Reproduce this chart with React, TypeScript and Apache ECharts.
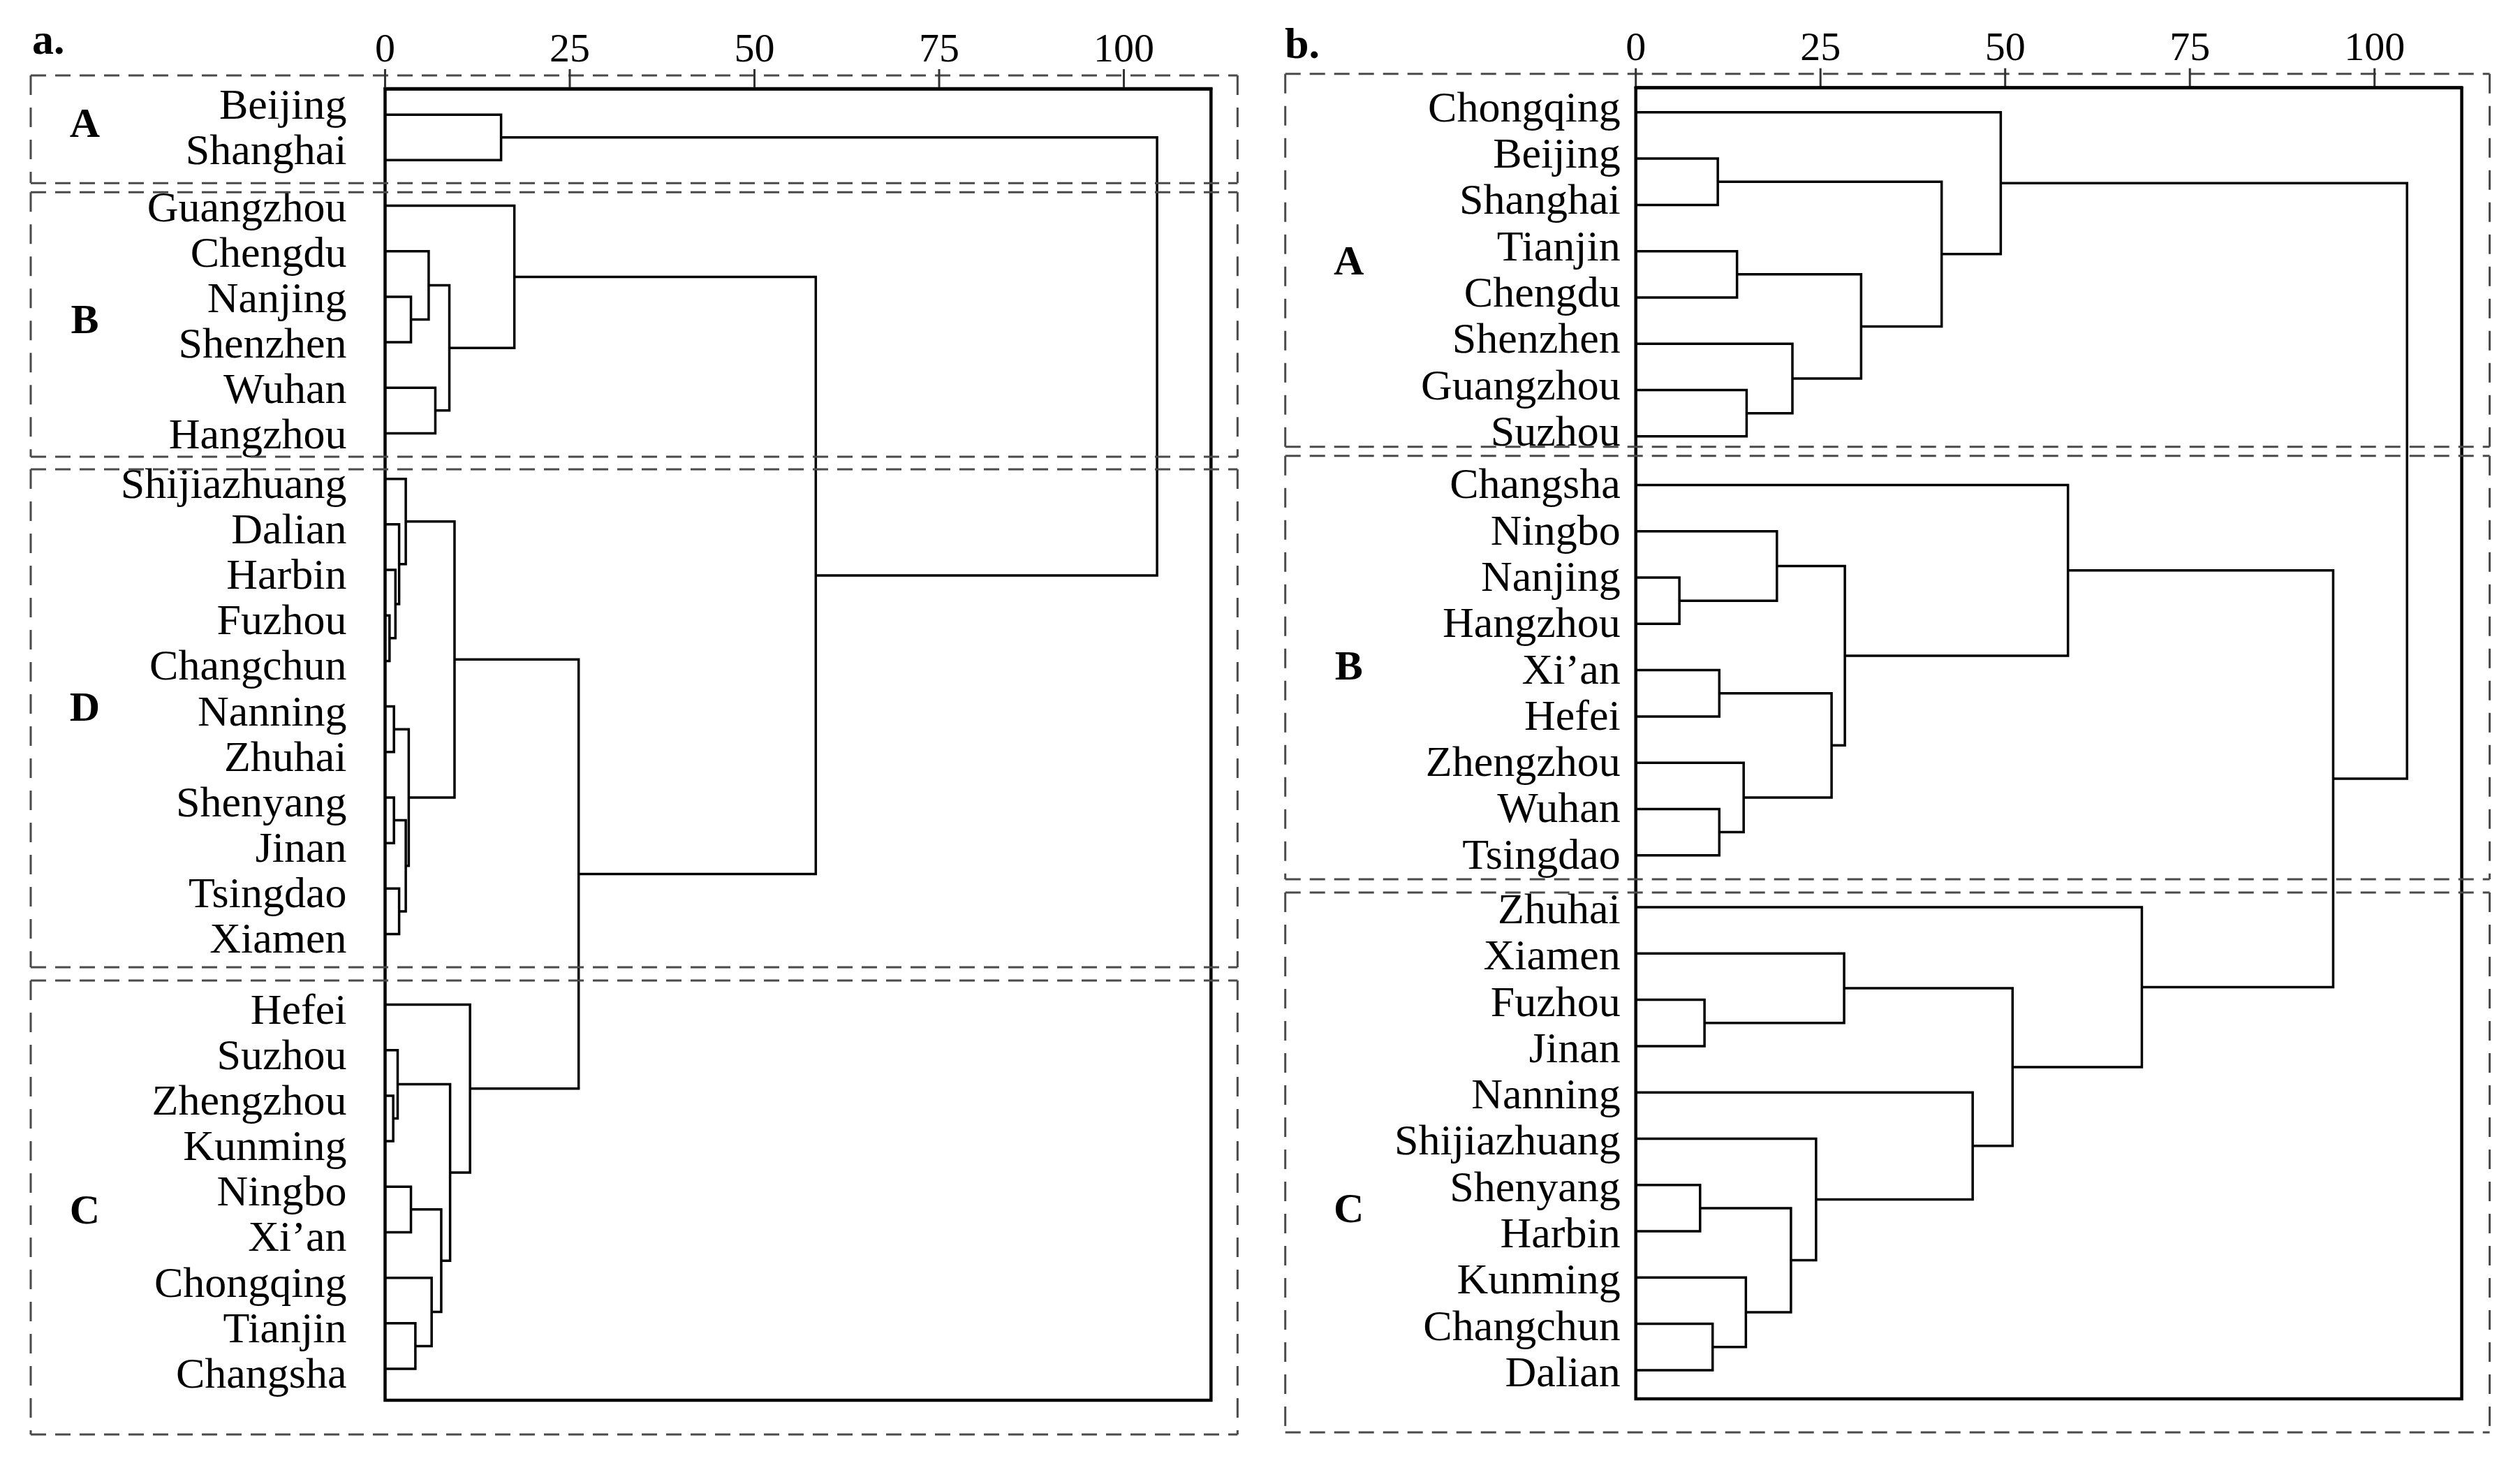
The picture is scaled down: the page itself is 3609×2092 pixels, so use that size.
import React, { useEffect, useRef } from "react";
import * as echarts from "echarts";

// ---------- data ----------
const TICKS = [0, 25, 50, 75, 100];
const AXIS_MAX = 111.8;

const leavesA = [
  "Beijing", "Shanghai",
  "Guangzhou", "Chengdu", "Nanjing", "Shenzhen", "Wuhan", "Hangzhou",
  "Shijiazhuang", "Dalian", "Harbin", "Fuzhou", "Changchun", "Nanning", "Zhuhai", "Shenyang", "Jinan", "Tsingdao", "Xiamen",
  "Hefei", "Suzhou", "Zhengzhou", "Kunming", "Ningbo", "Xi’an", "Chongqing", "Tianjin", "Changsha",
];
// [child, child, height]; numbers refer to earlier merges
const linksA: [string | number, string | number, number][] = [
  ["Beijing", "Shanghai", 15.7], // 0
  ["Nanjing", "Shenzhen", 3.5], // 1
  ["Chengdu", 1, 5.9], // 2
  ["Wuhan", "Hangzhou", 6.8], // 3
  [2, 3, 8.7], // 4
  ["Guangzhou", 4, 17.5], // 5
  ["Fuzhou", "Changchun", 0.6], // 6
  ["Harbin", 6, 1.4], // 7
  ["Dalian", 7, 1.9], // 8
  ["Shijiazhuang", 8, 2.8], // 9
  ["Nanning", "Zhuhai", 1.2], // 10
  ["Shenyang", "Jinan", 1.2], // 11
  ["Tsingdao", "Xiamen", 1.9], // 12
  [11, 12, 2.8], // 13
  [10, 13, 3.2], // 14
  [9, 14, 9.4], // 15
  ["Zhengzhou", "Kunming", 1.1], // 16
  ["Suzhou", 16, 1.7], // 17
  ["Ningbo", "Xi’an", 3.5], // 18
  ["Tianjin", "Changsha", 4.1], // 19
  ["Chongqing", 19, 6.3], // 20
  [18, 20, 7.6], // 21
  [17, 21, 8.8], // 22
  ["Hefei", 22, 11.5], // 23
  [15, 23, 26.2], // 24
  [5, 24, 58.3], // 25
  [0, 25, 104.5], // 26
];
const groupsA: [string, string, string][] = [
  ["A", "Beijing", "Shanghai"],
  ["B", "Guangzhou", "Hangzhou"],
  ["D", "Shijiazhuang", "Xiamen"],
  ["C", "Hefei", "Changsha"],
];

const leavesB = [
  "Chongqing", "Beijing", "Shanghai", "Tianjin", "Chengdu", "Shenzhen", "Guangzhou", "Suzhou",
  "Changsha", "Ningbo", "Nanjing", "Hangzhou", "Xi’an", "Hefei", "Zhengzhou", "Wuhan", "Tsingdao",
  "Zhuhai", "Xiamen", "Fuzhou", "Jinan", "Nanning", "Shijiazhuang", "Shenyang", "Harbin", "Kunming", "Changchun", "Dalian",
];
const linksB: [string | number, string | number, number][] = [
  ["Beijing", "Shanghai", 11.1], // 0
  ["Tianjin", "Chengdu", 13.7], // 1
  ["Guangzhou", "Suzhou", 15.0], // 2
  ["Shenzhen", 2, 21.2], // 3
  [1, 3, 30.5], // 4
  [0, 4, 41.4], // 5
  ["Chongqing", 5, 49.4], // 6
  ["Nanjing", "Hangzhou", 5.9], // 7
  ["Ningbo", 7, 19.1], // 8
  ["Xi’an", "Hefei", 11.3], // 9
  ["Wuhan", "Tsingdao", 11.3], // 10
  ["Zhengzhou", 10, 14.6], // 11
  [9, 11, 26.5], // 12
  [8, 12, 28.3], // 13
  ["Changsha", 13, 58.5], // 14
  ["Fuzhou", "Jinan", 9.3], // 15
  ["Xiamen", 15, 28.2], // 16
  ["Shenyang", "Harbin", 8.7], // 17
  ["Changchun", "Dalian", 10.4], // 18
  ["Kunming", 18, 14.9], // 19
  [17, 19, 21.0], // 20
  ["Shijiazhuang", 20, 24.4], // 21
  ["Nanning", 21, 45.6], // 22
  [16, 22, 51.0], // 23
  ["Zhuhai", 23, 68.5], // 24
  [14, 24, 94.4], // 25
  [6, 25, 104.4], // 26
];
const groupsB: [string, string, string][] = [
  ["A", "Chongqing", "Suzhou"],
  ["B", "Changsha", "Tsingdao"],
  ["C", "Zhuhai", "Dalian"],
];

// ---------- layout ----------
const FONT = '"Liberation Serif", "Times New Roman", serif';
const DASH = "#4a4a4a";
const PX_PER_UNIT = 10.58;
const TICK_LEN = 28;

const panels = [
  {
    tag: "a.", tagX: 46, tagY: 56,
    leaves: leavesA, links: linksA, groups: groupsA,
    left: 551.5, top: 127, height: 1878,
    gaps: [0, 0, 0.55], yMin: -0.57, yMax: 28.24,
    labelGap: 55, labelDy: [-15, 1, 6, 6], letterDx: -430, letterShift: [-0.32, 0, 0, 0.5],
    boxL: -507.5, boxR: 38, topPad: 19, bottomPad: 49,
    seps: [[6.7, 6.5], [10, 9], [6.5, 9.5]],
  },
  {
    tag: "b.", tagX: 1840, tagY: 62,
    leaves: leavesB, links: linksB, groups: groupsB,
    left: 2342.7, top: 125.7, height: 1877.3,
    gaps: [0.05, 0.12], yMin: -0.53, yMax: 27.79,
    labelGap: 22, labelDy: [-8, -2, 2], letterDx: -411, letterShift: [-0.3, -0.1, 1.5],
    boxL: -502, boxR: 40, topPad: 20, bottomPad: 48,
    seps: [[-13.5, 6.5], [6.5, 9.5]],
  },
];

function leafPositions(leaves: string[], groups: [string, string, string][], gaps: number[]) {
  const pos: number[] = [];
  const grp: number[] = [];
  let offset = 0;
  let cur = 0;
  const starts = groups.map((g) => leaves.indexOf(g[1]));
  leaves.forEach((_, i) => {
    const gi = starts.indexOf(i);
    if (gi > 0) offset += gaps[gi - 1] || 0;
    if (gi >= 0) cur = gi;
    pos.push(i + offset);
    grp.push(cur);
  });
  return { pos, grp };
}

function buildLinks(leaves: string[], links: [string | number, string | number, number][], pos: number[]) {
  const ny: number[] = [];
  const nh: number[] = [];
  const get = (c: string | number) =>
    typeof c === "number" ? { x: nh[c], y: ny[c] } : { x: 0, y: pos[leaves.indexOf(c)] };
  return links.map(([a, b, h], i) => {
    const A = get(a);
    const B = get(b);
    ny[i] = (A.y + B.y) / 2;
    nh[i] = h;
    return [A.x, A.y, B.x, B.y, h];
  });
}

export default function App() {
  const ref = useRef<HTMLDivElement>(null);
  useEffect(() => {
    if (!ref.current) return;
    const chart = echarts.init(ref.current, undefined, { renderer: "svg" });

    const grid: any[] = [];
    const xAxis: any[] = [];
    const yAxis: any[] = [];
    const series: any[] = [];
    const graphic: any[] = [];

    panels.forEach((P, pi) => {
      const { pos, grp } = leafPositions(P.leaves, P.groups, P.gaps);
      const linkData = buildLinks(P.leaves, P.links, pos);
      grid.push({
        left: P.left, top: P.top, width: AXIS_MAX * PX_PER_UNIT, height: P.height,
        show: true, borderColor: "#000", borderWidth: 4.5, backgroundColor: "transparent",
      });
      xAxis.push({
        type: "value", gridIndex: pi, position: "top", min: 0, max: AXIS_MAX, interval: 25,
        axisLine: { show: true, onZero: false, lineStyle: { color: "#000", width: 4.5 } },
        axisTick: { show: false },
        axisLabel: {
          show: true, showMaxLabel: false, margin: 30, color: "#000", fontSize: 58, fontFamily: FONT,
          formatter: (v: number) => (TICKS.indexOf(v) >= 0 ? String(v) : ""),
        },
        splitLine: { show: false },
        z: 10,
      });
      yAxis.push({ type: "value", gridIndex: pi, inverse: true, min: P.yMin, max: P.yMax, show: false, axisLine: { onZero: false } });

      // group dashed boxes + letters (+ the top axis ticks, drawn with the first group)
      const boxData = P.groups.map((g, gi) => {
        const f = P.leaves.indexOf(g[1]);
        const l = P.leaves.indexOf(g[2]);
        const prevLast = gi > 0 ? pos[P.leaves.indexOf(P.groups[gi - 1][2])] : 0;
        const nextFirst = gi < P.groups.length - 1 ? pos[P.leaves.indexOf(P.groups[gi + 1][1])] : 0;
        const topU = gi > 0 ? (prevLast + pos[f]) / 2 : P.yMin;
        const botU = gi < P.groups.length - 1 ? (pos[l] + nextFirst) / 2 : P.yMax;
        const labU = (pos[f] + pos[l]) / 2 + (P.letterShift[gi] || 0);
        return [0, topU, botU, labU];
      });
      series.push({
        type: "custom", xAxisIndex: pi, yAxisIndex: pi, silent: true, z: 5, clip: false,
        data: boxData, encode: { x: 0, y: 1 },
        renderItem: (params: any, api: any) => {
          const cs = params.coordSys;
          const gi = params.dataIndex;
          const n = P.groups.length;
          let yTop: number;
          let yBot: number;
          if (gi === 0) yTop = cs.y - P.topPad;
          else {
            const s = P.seps[gi - 1];
            yTop = api.coord([0, api.value(1)])[1] + s[0] + s[1];
          }
          if (gi === n - 1) yBot = cs.y + cs.height + P.bottomPad;
          else {
            const s = P.seps[gi];
            yBot = api.coord([0, api.value(2)])[1] + s[0] - s[1];
          }
          const xL = cs.x + P.boxL;
          const xR = cs.x + cs.width + P.boxR;
          const yLab = api.coord([0, api.value(3)])[1];
          const hs = { stroke: DASH, lineWidth: 3, lineDash: [22, 13], fill: "none" };
          const vs = { stroke: DASH, lineWidth: 3, lineDash: [28, 18], fill: "none" };
          const children: any[] = [
            { type: "line", shape: { x1: xL, y1: yTop, x2: xR, y2: yTop }, style: hs },
            { type: "line", shape: { x1: xL, y1: yBot, x2: xR, y2: yBot }, style: hs },
            { type: "line", shape: { x1: xL, y1: yTop, x2: xL, y2: yBot }, style: vs },
            { type: "line", shape: { x1: xR, y1: yTop, x2: xR, y2: yBot }, style: vs },
            {
              type: "text", x: cs.x + P.letterDx, y: yLab,
              style: {
                text: P.groups[gi][0], fill: "#000", font: `bold 60px ${FONT}`,
                align: "center", verticalAlign: "middle", textAlign: "center", textVerticalAlign: "middle",
              },
            },
          ];
          if (gi === 0) {
            TICKS.forEach((t) => {
              const px = api.coord([t, P.yMin])[0];
              children.push({
                type: "line",
                shape: { x1: px, y1: cs.y, x2: px, y2: cs.y - TICK_LEN },
                style: { stroke: "#333", lineWidth: 3 },
              });
            });
          }
          return { type: "group", children };
        },
      });

      // dendrogram links
      series.push({
        type: "custom", xAxisIndex: pi, yAxisIndex: pi, silent: true, z: 3,
        data: linkData, encode: { x: [0, 2, 4], y: [1, 3] },
        renderItem: (params: any, api: any) => {
          const p1 = api.coord([api.value(0), api.value(1)]);
          const p2 = api.coord([api.value(4), api.value(1)]);
          const p3 = api.coord([api.value(4), api.value(3)]);
          const p4 = api.coord([api.value(2), api.value(3)]);
          return {
            type: "polyline",
            shape: { points: [p1, p2, p3, p4] },
            style: { stroke: "#000", lineWidth: 3.5, fill: "none" },
          };
        },
      });

      // leaf labels
      series.push({
        type: "custom", xAxisIndex: pi, yAxisIndex: pi, silent: true, z: 3, clip: false,
        data: pos.map((p) => [0, p]), encode: { x: 0, y: 1 },
        renderItem: (params: any, api: any) => {
          const cs = params.coordSys;
          const i = params.dataIndex;
          const y = api.coord([0, api.value(1)])[1];
          return {
            type: "text", x: cs.x - P.labelGap, y: y + P.labelDy[grp[i]],
            style: {
              text: P.leaves[i], fill: "#000", font: `62px ${FONT}`,
              align: "right", verticalAlign: "middle", textAlign: "right", textVerticalAlign: "middle",
            },
          };
        },
      });

      graphic.push({
        type: "text", x: P.tagX, y: P.tagY,
        style: { text: P.tag, fill: "#000", font: `bold 62px ${FONT}`, verticalAlign: "middle", textVerticalAlign: "middle" },
      });
    });

    chart.setOption({
      animation: false,
      backgroundColor: "#fff",
      grid, xAxis, yAxis, series, graphic,
    });
    return () => chart.dispose();
  }, []);
  return <div ref={ref} style={{ position: "absolute", left: 0, top: 0, width: 3609, height: 2092 }} />;
}
